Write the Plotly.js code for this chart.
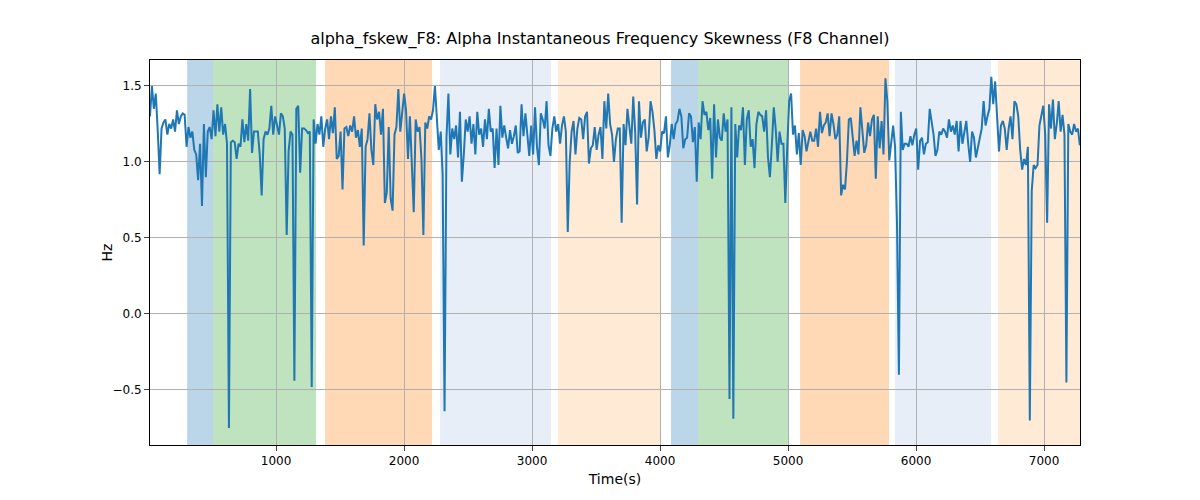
<!DOCTYPE html>
<html><head><meta charset="utf-8">
<script src="https://cdn.plot.ly/plotly-3.0.1.min.js"></script>
<style>body{margin:0}</style></head><body>
<div id="c" style="width:1200px;height:500px"></div>
<script>
const tStart = 15, tEnd = 7280;
const values = [
1.30,1.50,1.35,1.45,1.21,0.92,1.22,1.26,1.28,1.18,1.25,1.22,1.28,1.20,1.34,1.25,1.30,1.32,1.31,1.10,1.23,1.16,1.20,1.08,1.05,0.88,1.12,0.71,1.25,0.90,1.20,1.23,1.15,1.34,1.17,1.38,1.20,1.36,1.18,1.25,1.12,-0.75,1.13,1.14,1.13,1.02,1.12,1.10,1.28,1.13,1.25,1.14,1.48,1.06,1.20,1.20,1.20,1.05,0.78,1.15,1.20,1.18,1.22,1.37,1.18,1.30,1.24,1.18,1.32,1.30,1.22,0.52,1.07,1.20,1.18,-0.44,1.35,1.37,0.93,1.22,1.22,1.21,1.19,1.20,-0.48,1.28,1.12,1.25,1.18,1.30,1.10,1.22,1.28,1.15,1.30,1.19,1.36,1.02,1.04,1.20,0.82,1.22,1.23,1.17,1.24,1.20,1.30,1.16,1.21,1.10,1.22,0.45,1.10,1.15,1.32,1.08,0.98,1.38,1.28,1.33,1.18,1.35,0.73,0.80,1.23,0.76,0.68,1.18,1.23,1.48,1.20,1.31,1.45,1.34,1.02,1.30,0.98,0.67,1.28,1.20,1.23,1.02,0.52,1.26,1.22,1.30,1.28,1.34,1.50,1.25,1.08,1.20,0.92,-0.64,1.16,1.45,1.05,1.22,1.15,1.24,1.03,1.33,0.87,1.05,1.28,1.20,1.30,1.12,1.25,1.05,1.33,1.18,1.22,1.10,1.28,1.15,1.35,1.20,1.22,0.96,1.22,0.98,1.37,1.16,1.24,1.16,1.09,1.21,1.12,1.17,1.24,1.06,1.07,1.38,1.17,1.32,1.20,1.04,1.24,1.05,1.36,1.10,0.98,1.32,1.28,1.22,1.40,1.11,1.04,1.22,1.30,1.20,1.25,1.12,1.24,1.30,1.20,0.54,1.00,1.20,1.27,1.05,1.22,1.29,1.28,1.15,1.30,1.33,0.99,1.09,1.11,1.23,1.08,1.18,1.23,1.02,1.40,1.22,1.45,1.25,1.18,1.00,1.15,1.22,1.22,0.60,1.25,1.11,1.35,1.22,1.12,1.43,1.20,0.72,1.40,1.16,1.26,1.28,1.07,1.16,1.40,1.33,1.21,1.02,1.11,1.07,1.20,1.19,1.30,1.03,1.11,1.25,1.15,1.25,1.27,1.35,1.30,1.09,1.15,1.16,1.32,1.30,1.13,1.23,0.87,1.26,1.15,1.40,1.31,1.33,1.21,1.29,0.89,1.38,1.03,1.28,1.16,1.14,1.32,1.20,1.28,-0.56,1.36,-0.69,1.25,1.03,1.24,1.21,1.36,0.98,1.28,1.34,1.10,1.15,0.96,1.25,1.33,1.31,1.30,1.20,1.34,1.03,0.90,1.11,1.36,1.22,1.00,1.20,1.12,1.12,0.73,1.10,1.40,1.45,1.18,1.24,1.05,1.19,0.98,1.21,1.17,1.07,1.13,1.20,1.14,1.14,1.22,1.10,1.33,1.19,1.24,1.26,1.32,1.17,1.32,1.25,1.15,1.18,1.30,0.78,0.85,0.82,1.00,1.28,1.29,1.18,1.04,1.14,1.05,1.36,1.18,1.06,1.11,1.26,1.17,1.28,1.31,0.89,1.30,1.09,1.27,1.05,1.55,1.40,1.01,1.14,1.24,1.10,0.60,-0.40,1.33,1.08,1.12,1.12,1.10,1.17,1.11,1.18,1.22,0.95,1.14,1.16,1.05,1.12,1.13,1.35,1.25,1.18,1.04,1.08,1.20,1.18,1.22,1.20,1.16,1.28,1.20,1.24,1.18,1.27,1.07,1.27,1.12,1.20,1.27,1.12,1.00,1.20,1.16,1.03,1.09,1.17,1.22,1.40,1.24,1.30,1.35,1.56,1.38,1.53,1.30,1.07,1.24,1.27,1.22,1.08,1.22,1.30,1.15,1.40,1.38,1.30,1.08,0.95,1.02,0.98,1.10,-0.70,0.81,0.98,0.96,0.98,1.24,1.32,1.37,1.18,0.60,1.38,1.22,1.41,1.15,1.25,1.40,1.20,1.31,1.18,-0.45,1.25,1.20,1.18,1.25,1.20,1.22,1.11
];
const time = values.map((v,i)=>tStart+i*(tEnd-tStart)/(values.length-1));
const bandStarts = [305,508,1383,2281,3203,4086,4297,5094,5836,6641];
const bandEnds   = [508,1312,2219,3148,4000,4297,5008,5789,6586,7290];
const bandColors = ['rgba(31,119,180,0.3)','rgba(44,160,44,0.3)','rgba(255,127,14,0.3)','rgba(174,199,232,0.3)','rgba(255,187,120,0.3)','rgba(31,119,180,0.3)','rgba(44,160,44,0.3)','rgba(255,127,14,0.3)','rgba(174,199,232,0.3)','rgba(255,187,120,0.3)'];
const shapes = bandStarts.map((s,i)=>({type:'rect',xref:'x',yref:'paper',x0:s,x1:bandEnds[i],y0:0,y1:1,fillcolor:bandColors[i],line:{width:0},layer:'below'}));
Plotly.newPlot('c',[{x:time,y:values,type:'scatter',mode:'lines',line:{color:'#1f77b4',width:2}}],{
 width:1200,height:500,margin:{l:150,r:120,t:60,b:55},
 paper_bgcolor:'white',plot_bgcolor:'white',showlegend:false,
 font:{family:'DejaVu Sans',size:12,color:'#000'},
 title:{text:'alpha_fskew_F8: Alpha Instantaneous Frequency Skewness (F8 Channel)',x:0.5,y:0.935,font:{size:16}},
 xaxis:{range:[15,7281],tickvals:[1000,2000,3000,4000,5000,6000,7000],showgrid:true,gridcolor:'#b0b0b0',zeroline:false,showline:true,mirror:true,linecolor:'#000',ticks:'outside',title:{text:'Time(s)',standoff:6}},
 yaxis:{range:[-0.862,1.671],tickvals:[-0.5,0,0.5,1,1.5],ticktext:['−0.5','0.0','0.5','1.0','1.5'],showgrid:true,gridcolor:'#b0b0b0',zeroline:false,showline:true,mirror:true,linecolor:'#000',ticks:'outside',title:{text:'Hz'}},
 shapes:shapes
},{displayModeBar:false});
</script></body></html>
